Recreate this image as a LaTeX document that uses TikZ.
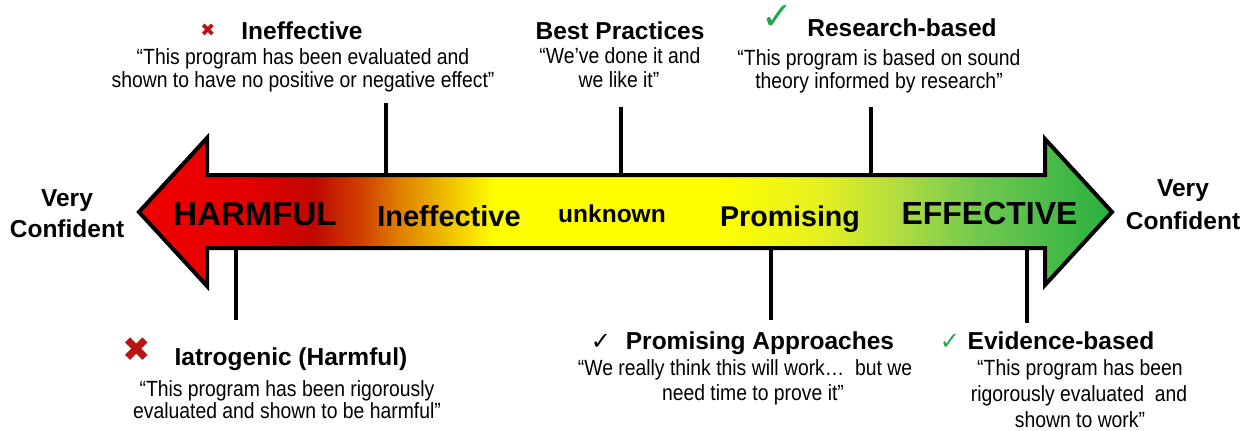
\documentclass[tikz,border=0pt]{standalone}
\usepackage{fontspec}
\setmainfont{Liberation Sans}
\newfontfamily\qfont[FakeStretch=0.88]{Liberation Sans}
\newfontfamily\symfont{DejaVu Sans}
\definecolor{s0}{HTML}{F20000}
\definecolor{s1}{HTML}{E20000}
\definecolor{s2}{HTML}{C00800}
\definecolor{s3}{HTML}{D04000}
\definecolor{s4}{HTML}{E08000}
\definecolor{s5}{HTML}{F0C400}
\definecolor{s6}{HTML}{FFFF00}
\definecolor{s7}{HTML}{FFFF00}
\definecolor{s8}{HTML}{E6F020}
\definecolor{s9}{HTML}{B0DC40}
\definecolor{s10}{HTML}{70C850}
\definecolor{s11}{HTML}{28B040}
\definecolor{xred}{HTML}{B81414}
\definecolor{ckgreen}{HTML}{22A84A}
\pgfdeclarehorizontalshading{arrowshade}{100bp}{color(0bp)=(s0); color(25bp)=(s0); color(30.7bp)=(s1); color(34bp)=(s2); color(36.4bp)=(s3); color(38.4bp)=(s4); color(41bp)=(s5); color(43.3bp)=(s6); color(54.8bp)=(s7); color(60bp)=(s8); color(64.1bp)=(s9); color(68.2bp)=(s10); color(75bp)=(s11); color(100bp)=(s11)}
\begin{document}
\begin{tikzpicture}[x=1pt,y=-1pt,
  every node/.style={inner sep=0pt, outer sep=0pt},
  hd/.style={anchor=base, font=\bfseries\fontsize{24.5}{26}\selectfont},
  ql/.style={anchor=base, font=\qfont\fontsize{22}{23}\selectfont},
  vc/.style={anchor=base, font=\bfseries\fontsize{24.5}{26}\selectfont},
  mid/.style={anchor=base},
  tick/.style={line width=3.5pt},
  sym/.style={anchor=base, font=\symfont}]
\useasboundingbox (0,0) rectangle (1254,431);
% tick lines
\coordinate (t1a) at (386,103); \coordinate (t1b) at (386,176);
\coordinate (t2a) at (621,107); \coordinate (t2b) at (621,176);
\coordinate (t3a) at (871,107); \coordinate (t3b) at (871,176);
\coordinate (b1a) at (236,247); \coordinate (b1b) at (236,320);
\coordinate (b2a) at (771,247); \coordinate (b2b) at (771,320);
\coordinate (b3a) at (1027,247); \coordinate (b3b) at (1027,323);
\draw[tick] (t1a) -- (t1b);
\draw[tick] (t2a) -- (t2b);
\draw[tick] (t3a) -- (t3b);
\draw[tick] (b1a) -- (b1b);
\draw[tick] (b2a) -- (b2b);
\draw[tick] (b3a) -- (b3b);
% double arrow
\path[draw=black, line width=4pt, shade, shading=arrowshade]
  (139,212) -- (207,138) -- (207,175) -- (1045,175) -- (1045,139) -- (1112,212)
  -- (1045,285) -- (1045,248) -- (207,248) -- (207,286) -- cycle;
% labels in arrow
\node[mid, font=\bfseries\fontsize{33}{33}\selectfont] (harm) at (255,225) {HARMFUL};
\node[mid, font=\bfseries\fontsize{29}{29}\selectfont] (ineffm) at (449,226) {Ineffective};
\node[mid, font=\bfseries\fontsize{24.5}{25}\selectfont] (unk) at (612,222) {unknown};
\node[mid, font=\bfseries\fontsize{28.6}{29}\selectfont] (prom) at (790,226) {Promising};
\node[mid, font=\bfseries\fontsize{32}{32}\selectfont] (eff) at (989.5,224) {EFFECTIVE};
% very confident
\node[vc] (vl1) at (67,206) {Very};
\node[vc] (vl2) at (67,237.5) {Confident};
\node[vc] (vr1) at (1183,196) {Very};
\node[vc] (vr2) at (1183,229.5) {Confident};
% top: ineffective
\node[sym, font=\symfont\fontsize{18}{18}\selectfont, text=xred] (x1) at (208,36) {✖};
\node[hd] (h1) at (302,39) {Ineffective};
\node[ql] (q1a) at (303,64) {“This program has been evaluated and};
\node[ql] (q1b) at (303,87) {shown to have no positive or negative effect”};
% top: best practices
\node[hd] (h2) at (620,39) {Best Practices};
\node[ql] (q2a) at (620,63) {“We’ve done it and};
\node[ql] (q2b) at (619,87) {we like it”};
% top: research-based
\node[sym, font=\symfont\fontsize{38}{38}\selectfont, text=ckgreen] (c1) at (777,30) {✓};
\node[hd] (h3) at (902,36) {Research-based};
\node[ql] (q3a) at (879,65) {“This program is based on sound};
\node[ql] (q3b) at (879,88) {theory informed by research”};
% bottom: iatrogenic
\node[sym, font=\symfont\fontsize{34}{34}\selectfont, text=xred] (x2) at (137,361) {✖};
\node[hd] (h4) at (291,365) {Iatrogenic (Harmful)};
\node[ql] (q4a) at (287,396) {“This program has been rigorously};
\node[ql] (q4b) at (287,418) {evaluated and shown to be harmful”};
% bottom: promising approaches
\node[sym, font=\symfont\fontsize{24}{24}\selectfont] (c2) at (601,349) {✓};
\node[hd] (h5) at (760,349) {Promising Approaches};
\node[ql] (q5a) at (745,375) {“We really think this will work…\ \ but we};
\node[ql] (q5b) at (753,400) {need time to prove it”};
% bottom: evidence-based
\node[sym, font=\symfont\fontsize{24}{24}\selectfont, text=ckgreen] (c3) at (950,349) {✓};
\node[hd] (h6) at (1061,349) {Evidence-based};
\node[ql] (q6a) at (1080,375) {“This program has been};
\node[ql] (q6b) at (1079,401) {rigorously evaluated\ \ and};
\node[ql] (q6c) at (1080,427) {shown to work”};
\end{tikzpicture}
\end{document}
